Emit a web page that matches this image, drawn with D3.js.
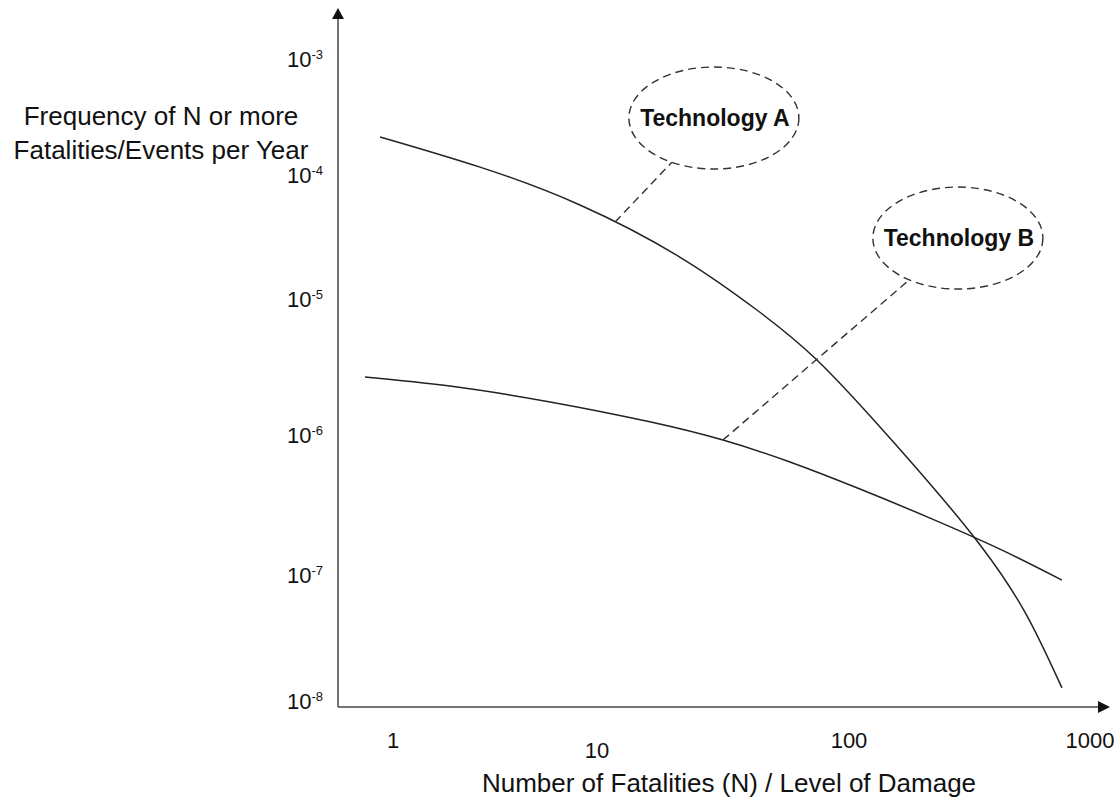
<!doctype html>
<html>
<head>
<script src="https://cdnjs.cloudflare.com/ajax/libs/d3/7.8.5/d3.min.js"></script>
<style>
body { margin: 0; background: #fff; }
svg { display: block; }
text { font-family: "Liberation Sans", Arial, sans-serif; fill: #111; }
.axis { stroke: #444; stroke-width: 1.5px; fill: none; }
.curve { stroke: #222; stroke-width: 1.5px; fill: none; }
.dash { stroke: #333; stroke-width: 1.4px; stroke-dasharray: 8 5; fill: none; }
.tick { font-size: 22px; }
.title { font-size: 26px; }
.bubble { font-size: 23px; font-weight: bold; }
</style>
</head>
<body>
<svg width="1117" height="800"></svg>
<script>
// tick values
var xTicks = [1, 10, 100, 1000];
var yTicks = [1e-8, 1e-7, 1e-6, 1e-5, 1e-4, 1e-3];

// Technology A
var nA    = [0.864, 2.67, 8.25, 21.3, 43.1, 74.6, 134.5, 217, 350, 537, 765];
var freqA = [2.13e-4, 1.17e-4, 5.73e-5, 2.18e-5, 8.3e-6, 3.56e-6, 1.145e-6, 4.47e-7, 1.64e-7, 5.08e-8, 1.27e-8];

// Technology B
var nB    = [0.729, 1.90, 5.89, 16.2, 31.6, 58.3, 111, 217, 423, 765];
var freqB = [2.67e-6, 2.29e-6, 1.75e-6, 1.25e-6, 9.2e-7, 6.41e-7, 4.11e-7, 2.55e-7, 1.53e-7, 9.1e-8];

// callouts: label, bubble centre, point on curve
var labels    = ["Technology A", "Technology B"];
var bubbleN   = [29.1, 283];
var bubbleF   = [3.1e-4, 3.1e-5];
var anchorN   = [11.8, 31.6];
var anchorF   = [4.18e-5, 9.2e-7];

var svg = d3.select("svg");
var axisX = 338, axisY = 707, rx = 85, ry = 51;

// the drawing is a sketch: decades are not evenly spaced
var x = d3.scaleLog().domain(xTicks).range([393, 597, 849, 1090]);
var y = d3.scaleLog().domain(yTicks).range([701, 575, 435, 299, 175, 59]);

// axes with arrow heads
svg.append("line").attr("class", "axis")
  .attr("x1", axisX).attr("y1", axisY).attr("x2", axisX).attr("y2", 16);
svg.append("line").attr("class", "axis")
  .attr("x1", axisX).attr("y1", axisY).attr("x2", 1100).attr("y2", axisY);
svg.append("path").attr("fill", "#111")
  .attr("d", d3.line()([[axisX, 8], [axisX - 6, 19], [axisX + 6, 19]]) + "Z");
svg.append("path").attr("fill", "#111")
  .attr("d", d3.line()([[1110, axisY], [1098, axisY - 6], [1098, axisY + 6]]) + "Z");

// y tick labels 10^n
var yl = svg.append("g").selectAll("text").data(yTicks).enter().append("text")
  .attr("class", "tick")
  .attr("x", 323)
  .attr("y", d => y(d) + 8)
  .attr("text-anchor", "end");
yl.append("tspan").text("10");
yl.append("tspan").attr("dy", -8).style("font-size", "13px")
  .text(d => "-" + Math.round(-Math.log10(d)));

// x tick labels
svg.append("g").selectAll("text").data(xTicks).enter().append("text")
  .attr("class", "tick")
  .attr("x", d => x(d))
  .attr("y", (d, i) => i == 1 ? 758 : 748)
  .attr("text-anchor", "middle")
  .text(d => d);

// axis titles
svg.append("text").attr("class", "title").attr("x", 161).attr("y", 125)
  .attr("text-anchor", "middle").text("Frequency of N or more");
svg.append("text").attr("class", "title").attr("x", 161).attr("y", 159)
  .attr("text-anchor", "middle").text("Fatalities/Events per Year");
svg.append("text").attr("class", "title").attr("x", 729).attr("y", 792)
  .attr("text-anchor", "middle").text("Number of Fatalities (N) / Level of Damage");

// curves
var line = d3.line().x(d => x(d[0])).y(d => y(d[1])).curve(d3.curveNatural);
svg.append("path").attr("class", "curve").attr("d", line(d3.zip(nA, freqA)));
svg.append("path").attr("class", "curve").attr("d", line(d3.zip(nB, freqB)));

// callout bubbles and leaders
labels.forEach(function (lab, i) {
  var cx = x(bubbleN[i]), cy = y(bubbleF[i]);
  var ax = x(anchorN[i]), ay = y(anchorF[i]);
  var dx = ax - cx, dy = ay - cy, len = Math.hypot(dx, dy);
  var ux = dx / len, uy = dy / len;
  var s = 1 / Math.sqrt((ux / rx) * (ux / rx) + (uy / ry) * (uy / ry));
  svg.append("line").attr("class", "dash")
    .attr("x1", ax).attr("y1", ay).attr("x2", cx + ux * s).attr("y2", cy + uy * s);
  svg.append("ellipse").attr("class", "dash")
    .attr("cx", cx).attr("cy", cy).attr("rx", rx).attr("ry", ry);
  svg.append("text").attr("class", "bubble")
    .attr("x", cx + 1).attr("y", cy + 8)
    .attr("text-anchor", "middle").text(lab);
});
</script>
</body>
</html>
